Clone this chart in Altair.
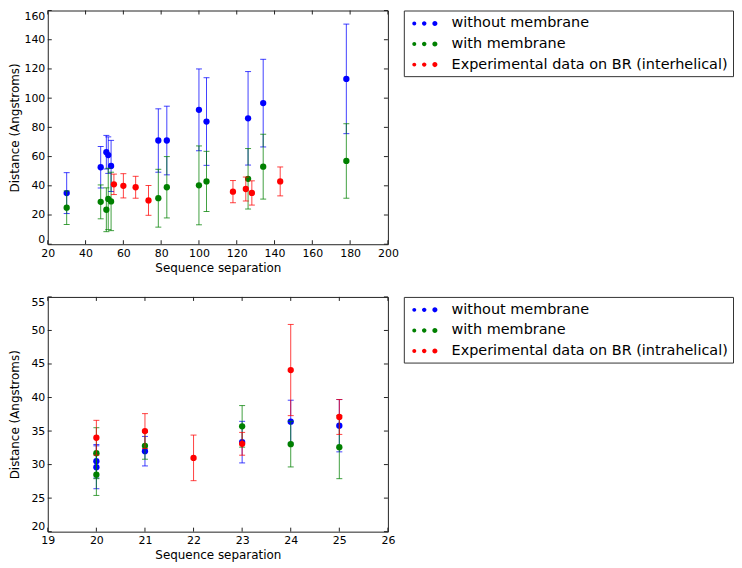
import altair as alt
import pandas as pd

# ---- top panel (interhelical) ----
top_blue_x = [30, 48, 51, 52, 53.5, 78.5, 83, 100, 104, 126, 134, 178]
top_blue_y = [35, 52.7, 63, 61, 53.6, 71, 71, 92, 84, 86.2, 96.6, 113.2]
top_blue_err = [14, 14.2, 11.5, 12.5, 17.5, 21.7, 23.5, 28, 30, 32, 30, 37.5]
top_green_x = [30, 48, 51, 52, 53.5, 78.5, 83, 100, 104, 126, 134, 178]
top_green_y = [25, 29, 23.6, 31, 29.3, 31.5, 39, 40.3, 43, 44.8, 53.1, 57]
top_green_err = [11.5, 11.6, 15, 21, 20, 19.8, 21, 27, 20.6, 20.7, 22.2, 25.5]
top_red_x = [55, 60, 66.5, 73.3, 118, 124.8, 128, 143]
top_red_y = [41, 40, 39, 30, 36, 37.8, 35.1, 43]
top_red_err = [7, 8.3, 7.5, 10.2, 7.6, 8.2, 8.3, 9.9]

# ---- bottom panel (intrahelical) ----
bot_blue_x = [20, 20, 21, 23, 24, 25]
bot_blue_y = [30.5, 29.6, 32.0, 33.35, 36.4, 35.8]
bot_blue_err = [2.5, 3.2, 2.2, 3.1, 3.2, 3.9]
bot_green_x = [20, 20, 21, 23, 24, 25]
bot_green_y = [31.7, 28.5, 32.8, 35.7, 33.05, 32.6]
bot_green_err = [3.8, 3.1, 2.0, 3.1, 3.4, 4.7]
bot_red_x = [20, 21, 22, 23, 24, 25]
bot_red_y = [34.0, 35.0, 31.0, 33.1, 44.1, 37.1]
bot_red_err = [2.6, 2.6, 3.4, 1.7, 6.8, 2.6]

top_names = ["without membrane", "with membrane", "Experimental data on BR (interhelical)"]
bot_names = ["without membrane", "with membrane", "Experimental data on BR (intrahelical)"]
colors = ["#0000ff", "#008000", "#ff0000"]

top_xticks = [20, 40, 60, 80, 100, 120, 140, 160, 180, 200]
top_yticks = [0, 20, 40, 60, 80, 100, 120, 140, 160]
bot_xticks = [19, 20, 21, 22, 23, 24, 25, 26]
bot_yticks = [20, 25, 30, 35, 40, 45, 50, 55]

W = 342
H_TOP = 235
H_BOT = 236


def three_dots():
    parts = []
    for cx, r in [(-1.31, 0.25), (-0.06, 0.28), (1.28, 0.32)]:
        parts.append(
            f"M{cx - r:.3f},0A{r},{r} 0 1,0 {cx + r:.3f},0A{r},{r} 0 1,0 {cx - r:.3f},0Z"
        )
    return "".join(parts)


DOTS = three_dots()


def frame(xs, ys, errs):
    return pd.DataFrame({
        "x": xs,
        "y": ys,
        "lo": [a - b for a, b in zip(ys, errs)],
        "hi": [a + b for a, b in zip(ys, errs)],
    })


def panel(series, names, xdom, ydom, xticks, yticks, legend_x, H):
    xs = alt.Scale(domain=xdom, nice=False, zero=False)
    ys = alt.Scale(domain=ydom, nice=False, zero=False)
    cscale = alt.Scale(domain=names, range=colors)
    xaxis = alt.Axis(values=xticks, title="Sequence separation", ticks=False, tickSize=0,
                     domain=False, grid=False, labelPadding=3, titlePadding=4,
                     labelFlush=False)
    yaxis = alt.Axis(values=yticks, title="Distance (Angstroms)", ticks=False, tickSize=0,
                     domain=False, grid=False, labelPadding=3, titlePadding=2,
                     labelFlush=True, minExtent=24, maxExtent=24)
    legend = alt.Legend(
        title=None, orient="none", legendX=legend_x, legendY=0,
        symbolType=DOTS, symbolSize=256, symbolStrokeWidth=0, symbolOpacity=1,
        symbolOffset=8, labelOffset=19, labelFontSize=14.5, labelFont="DejaVu Sans",
        labelColor="black", labelLimit=500, padding=5, rowPadding=5.7,
        strokeColor="#333", fillColor="white",
    )
    X = lambda f: alt.X(f, scale=xs, axis=xaxis, title="Sequence separation")
    Y = lambda f: alt.Y(f, scale=ys, axis=yaxis, title="Distance (Angstroms)")
    col = alt.Color("series:N", scale=cscale, legend=legend)

    layers = []
    for name, (xv, yv, ev) in zip(names, series):
        df = frame(xv, yv, ev)
        df["series"] = name
        base = alt.Chart(df)
        bars = base.mark_rule(strokeWidth=1, opacity=0.75).encode(
            x=X("x:Q"), y=Y("lo:Q"), y2="hi:Q", color=col,
        )
        cap_lo = base.mark_tick(orient="horizontal", size=6, thickness=1, opacity=0.75).encode(
            x=X("x:Q"), y=Y("lo:Q"), color=col,
        )
        cap_hi = base.mark_tick(orient="horizontal", size=6, thickness=1, opacity=0.75).encode(
            x=X("x:Q"), y=Y("hi:Q"), color=col,
        )
        pts = base.mark_circle(size=40, opacity=1).encode(
            x=X("x:Q"), y=Y("y:Q"), color=col,
        )
        layers += [bars, cap_lo, cap_hi, pts]

    xt = alt.Chart(pd.DataFrame({"t": xticks}))
    yt = alt.Chart(pd.DataFrame({"t": yticks}))
    tick_style = dict(color="#222", strokeWidth=1)
    layers += [
        xt.mark_rule(**tick_style).encode(x=X("t:Q"), y=alt.value(H), y2=alt.value(H - 4)),
        xt.mark_rule(**tick_style).encode(x=X("t:Q"), y=alt.value(0), y2=alt.value(4)),
        yt.mark_rule(**tick_style).encode(y=Y("t:Q"), x=alt.value(0), x2=alt.value(4)),
        yt.mark_rule(**tick_style).encode(y=Y("t:Q"), x=alt.value(W), x2=alt.value(W - 4)),
    ]
    return alt.layer(*layers).properties(width=W, height=H)


top = panel(
    [(top_blue_x, top_blue_y, top_blue_err),
     (top_green_x, top_green_y, top_green_err),
     (top_red_x, top_red_y, top_red_err)],
    top_names, [20, 200], [0, 160], top_xticks, top_yticks, 358, H_TOP,
)
bottom = panel(
    [(bot_blue_x, bot_blue_y, bot_blue_err),
     (bot_green_x, bot_green_y, bot_green_err),
     (bot_red_x, bot_red_y, bot_red_err)],
    bot_names, [19, 26], [20, 55], bot_xticks, bot_yticks, 358, H_BOT,
)

chart = (
    alt.vconcat(top, bottom, spacing=22)
    .resolve_scale(x="independent", y="independent", color="independent")
    .properties(padding=0)
    .configure_view(stroke="#222", strokeWidth=1)
    .configure_axis(labelFont="DejaVu Sans", titleFont="DejaVu Sans", labelFontSize=11,
                    titleFontSize=12, titleFontWeight="normal", labelColor="black",
                    titleColor="black")
)

chart.save("out.html", embed_options={"renderer": "svg", "actions": False})
